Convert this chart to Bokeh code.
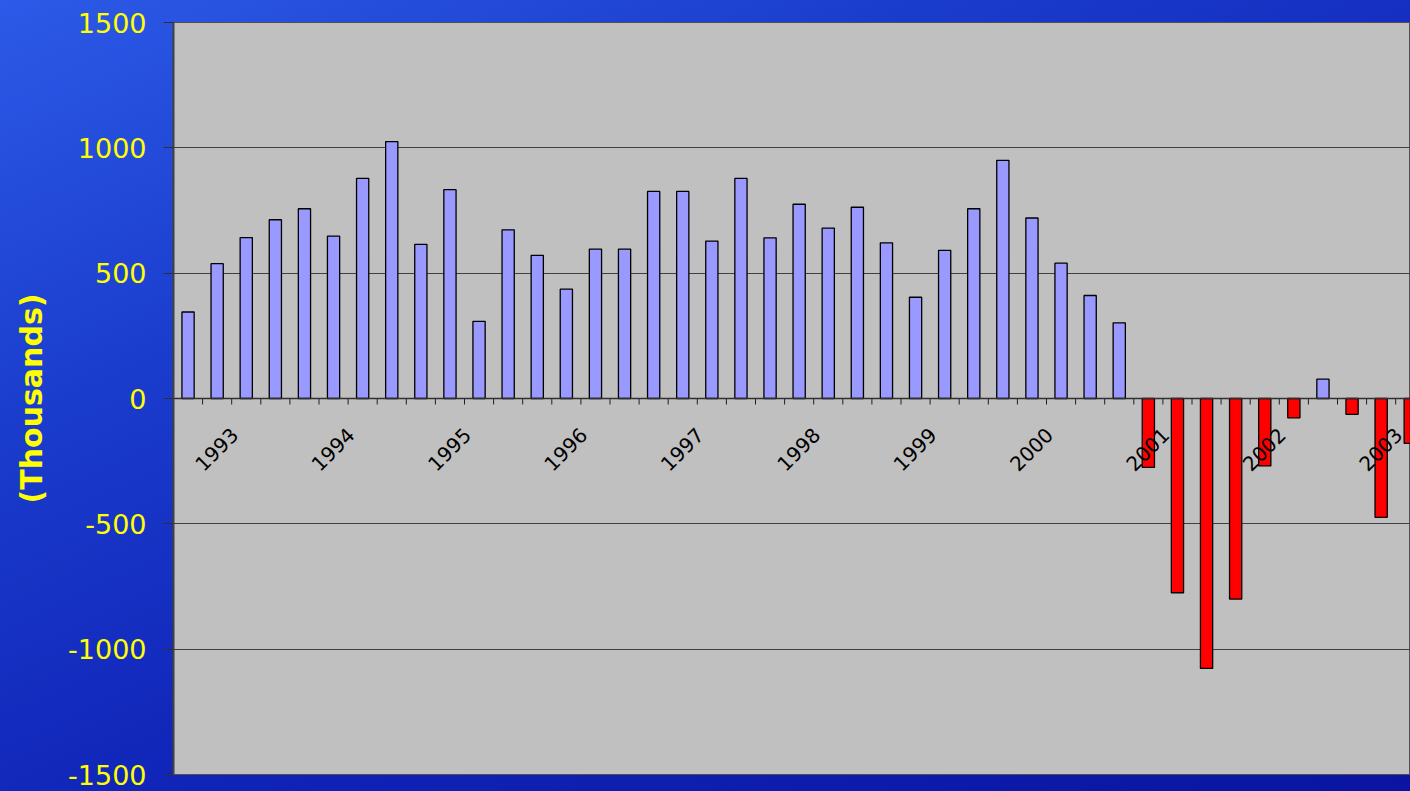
import math
from bokeh.plotting import figure
from bokeh.models import FixedTicker, ColumnDataSource
from bokeh.core.properties import value
from bokeh.embed import file_html
from bokeh.resources import INLINE

# quarterly values (thousands)
values = [345, 538, 642, 713, 757, 648, 878, 1025, 615, 833, 308, 673, 571, 436,
          596, 596, 826, 826, 628, 878, 641, 775, 680, 763, 621, 404, 591, 757,
          950, 720, 540, 411, 302, -275, -775, -1077, -800, -269, -77, 77, -63,
          -474, -179]
year_labels = ["1993", "1994", "1995", "1996", "1997", "1998", "1999", "2000",
               "2001", "2002", "2003"]
y_ticks = [-1500, -1000, -500, 0, 500, 1000, 1500]
y_tick_labels = ["-1500", "-1000", "-500", "0", "500", "1000", "1500"]

W, H = 1410, 791
LEFT, TOP, BOTTOM = 173, 22, 17
frame_w = W - LEFT
frame_h = H - TOP - BOTTOM
cat_px = 29.1
x_start = -0.5
x_end = x_start + frame_w / cat_px
y_min, y_max = -1500, 1500
px_per_unit = frame_h / (y_max - y_min)

p = figure(width=W, height=H, output_backend="svg", toolbar_location=None,
           x_range=(x_start, x_end), y_range=(y_min, y_max),
           x_axis_type=None, min_border_left=LEFT, min_border_top=TOP,
           min_border_bottom=BOTTOM, min_border_right=0)
p.border_fill_color = None
p.styles = {"background": "linear-gradient(155deg, #2d5ae8 0%, #1a3ccc 30%, #1024b8 60%, #0a14a0 100%)"}
p.background_fill_color = "#c0c0c0"
p.outline_line_color = "#505050"
p.outline_line_width = 1

# bars
idx = list(range(len(values)))
colors = ["#9999ff" if v >= 0 else "#ff0000" for v in values]
src = ColumnDataSource(dict(x=idx, top=values, color=colors))
p.vbar(x="x", top="top", bottom=0, width=0.42, fill_color="color",
       line_color="black", line_width=1.3, source=src)

# grid
p.ygrid.ticker = FixedTicker(ticks=y_ticks)
p.ygrid.grid_line_color = "#404040"
p.ygrid.grid_line_width = 1
p.xgrid.visible = False

# category tick marks on zero line
bx = [i + 0.5 for i in range(len(values) - 1)]
tick_len = 6 / px_per_unit
p.segment(x0=bx, y0=[0] * len(bx), x1=bx, y1=[-tick_len] * len(bx),
          line_color="#202020", line_width=1)
p.segment(x0=[x_start], y0=[0], x1=[x_end], y1=[0], line_color="#303030", line_width=1.3)

# year labels
lx = [4 * k + 1.5 for k in range(len(year_labels))]
ly = [-33 / px_per_unit] * len(year_labels)
p.text(x=lx, y=ly, text=year_labels, angle=math.pi / 4, x_offset=3,
       text_align="right", text_baseline="middle",
       text_font=value("DejaVu Sans"), text_font_size="20px", text_color="black")

# y axis
ya = p.yaxis[0]
ya.ticker = FixedTicker(ticks=y_ticks)
ya.major_label_overrides = {t: s for t, s in zip(y_ticks, y_tick_labels)}
ya.minor_tick_line_color = None
ya.major_tick_in = 0
ya.major_tick_out = 10
ya.major_tick_line_color = "#303030"
ya.axis_line_color = "#404040"
ya.axis_line_width = 2
ya.major_label_standoff = 17
ya.major_label_text_color = "#ffff00"
ya.major_label_text_font = "DejaVu Sans"
ya.major_label_text_font_size = "27px"
ya.axis_label = "(Thousands)"
ya.axis_label_text_color = "#ffff00"
ya.axis_label_text_font = "DejaVu Sans"
ya.axis_label_text_font_style = "bold"
ya.axis_label_text_font_size = "30px"
ya.axis_label_standoff = 16

open("out.html", "w").write(file_html(p, INLINE))
